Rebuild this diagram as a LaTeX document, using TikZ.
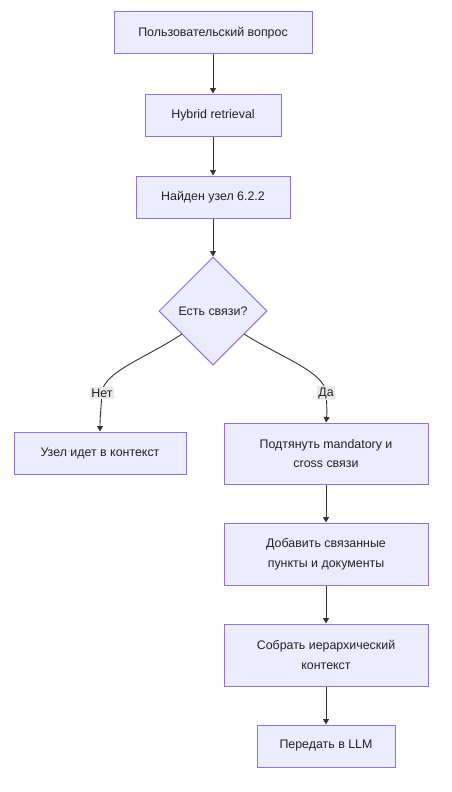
\documentclass[tikz,border=0pt]{standalone}
\usepackage{fontspec}
\setmainfont{Liberation Sans}
\usetikzlibrary{shapes.geometric,arrows.meta}
\definecolor{nodefill}{HTML}{ECECFF}
\definecolor{nodeline}{HTML}{9370DB}
\definecolor{edgecol}{HTML}{333333}
\definecolor{txtcol}{HTML}{222222}
\definecolor{lblbg}{HTML}{EAEAEA}
\tikzset{
  x=1pt, y=-1pt,
  flowbox/.style={draw=nodeline, fill=nodefill, line width=1pt, inner sep=0pt,
    text=txtcol, align=center, font=\fontsize{12.4}{19.5}\selectfont},
  decision/.style={diamond, draw=nodeline, fill=nodefill, line width=1pt, inner sep=0pt,
    text=txtcol, font=\fontsize{12.4}{19.5}\selectfont, minimum width=108pt, minimum height=108pt},
  flow/.style={draw=edgecol, line width=0.9pt, -{Triangle[length=5.5pt,width=6pt]}},
  edgelabel/.style={fill=lblbg, text=txtcol, inner sep=1.6pt, font=\fontsize{12.4}{14}\selectfont}
}
\begin{document}
\begin{tikzpicture}
\useasboundingbox (0,0) rectangle (451,792);
\node[flowbox, minimum width=198pt, minimum height=42pt] (q) at (213,33) {Пользовательский вопрос};
\node[flowbox, minimum width=136pt, minimum height=42pt] (hr) at (213,115) {Hybrid retrieval};
\node[flowbox, minimum width=154pt, minimum height=42pt] (found) at (213,197) {Найден узел 6.2.2};
\node[decision] (links) at (213,311) {Есть связи?};
\node[flowbox, minimum width=172pt, minimum height=42pt] (ctx) at (100,453) {Узел идет в контекст};
\node[flowbox, minimum width=204pt, minimum height=61pt] (pull) at (326,453.5) {Подтянуть mandatory и\\cross связи};
\node[flowbox, minimum width=204pt, minimum height=62pt] (add) at (326,554) {Добавить связанные\\пункты и документы};
\node[flowbox, minimum width=204pt, minimum height=62pt] (hier) at (326,655) {Собрать иерархический\\контекст};
\node[flowbox, minimum width=138pt, minimum height=42pt] (llm) at (326,746) {Передать в LLM};

\draw[flow] (q) -- (hr);
\draw[flow] (hr) -- (found);
\draw[flow] (found) -- (links);
\draw[flow] (pull) -- (add);
\draw[flow] (add) -- (hier);
\draw[flow] (hier) -- (llm);

\coordinate (nostart) at (182,334);
\coordinate (nomid) at (102,393);
\coordinate (yesstart) at (244,334);
\coordinate (yesmid) at (326,393);
\draw[flow] (nostart) .. controls (146,358) and (103,372) .. (nomid)
  .. controls (101,408) and (100,418) .. (ctx.north);
\draw[flow] (yesstart) .. controls (282,358) and (325,372) .. (yesmid)
  .. controls (327,405) and (327,414) .. (pull.north);
\node[edgelabel] (nolbl) at (nomid) {Нет};
\node[edgelabel] (yeslbl) at (yesmid) {Да};
\end{tikzpicture}
\end{document}
